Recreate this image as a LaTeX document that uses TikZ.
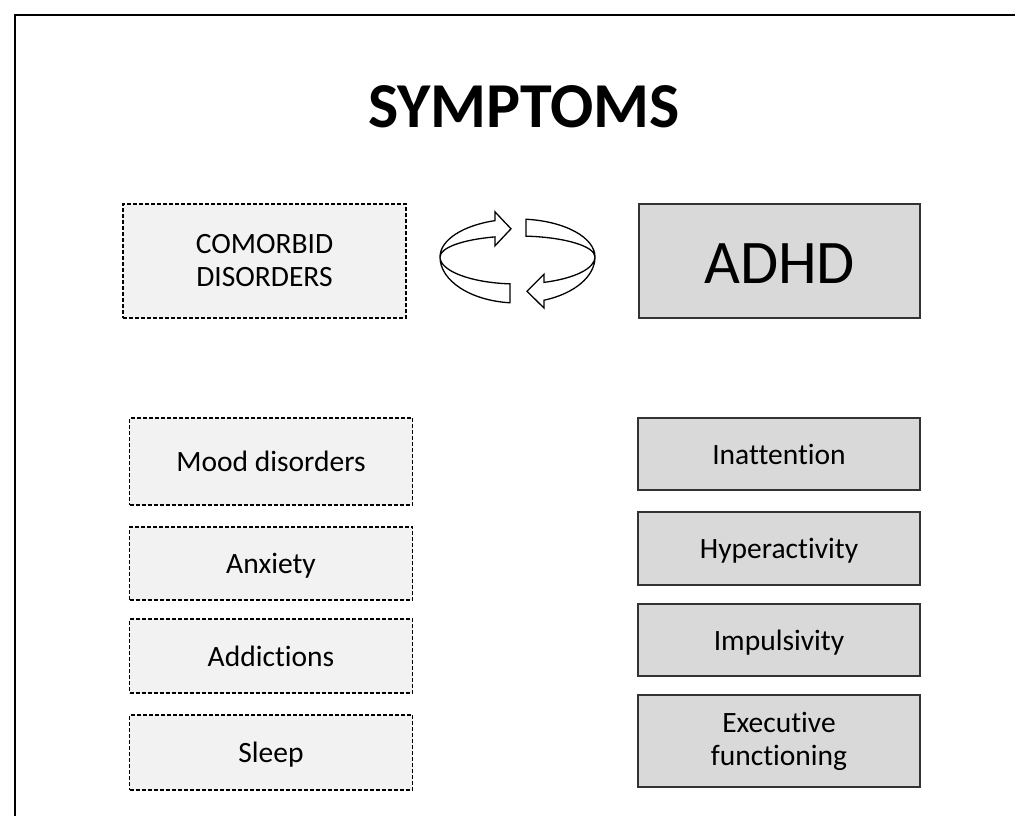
\documentclass[tikz,border=0pt]{standalone}
\usepackage{fontspec}
\setmainfont{Carlito}[Ligatures=CommonOff]
\usepackage{tikz}

\begin{document}
\begin{tikzpicture}[x=1pt,y=1pt,
    comorb/.style={draw, dashed, dash pattern=on 4pt off 2pt, line width=1.3pt, fill=black!5,
        minimum width=283pt, font=\fontsize{29.5}{33}\selectfont, align=center},
    core/.style={draw=black!80, line width=1.2pt, fill=black!15,
        minimum width=282pt, font=\fontsize{29.5}{33}\selectfont, align=center},
    oneline/.style={text height=20pt, text depth=0pt},
    ringarrow/.style={draw, fill=white, line width=1.3pt}]
    \useasboundingbox (0,0) rectangle (1015,-816);
    \draw[line width=2pt] (15,-816) -- (15,-15) -- (1015,-15);
    \node[font=\fontsize{64}{77}\selectfont\bfseries, anchor=base] (title) at (524,-127) {SYMPTOMS};

    \node[comorb, minimum height=114pt] (comorbid) at (264.5,-261) {COMORBID\\DISORDERS};
    \node[core, minimum width=281pt, minimum height=114pt, font=\fontsize{62}{70}\selectfont,
        text height=44pt, text depth=0pt] (adhd) at (779.5,-261) {ADHD};

    \node[comorb, oneline, minimum height=87pt] (mood) at (271,-461.5) {Mood disorders};
    \node[comorb, oneline, minimum height=73pt] (anxiety) at (271,-563.5) {Anxiety};
    \node[comorb, oneline, minimum height=74pt] (addictions) at (271,-656) {Addictions};
    \node[comorb, oneline, minimum height=75pt] (sleep) at (271,-752.5) {Sleep};

    \node[core, oneline, minimum height=72pt] (inattention) at (779,-454) {Inattention};
    \node[core, oneline, minimum height=73pt] (hyper) at (779,-548.5) {Hyperactivity};
    \node[core, oneline, minimum height=72pt] (impuls) at (779,-640) {Impulsivity};
    \node[core, minimum height=92pt] (execfun) at (779,-741) {Executive\\functioning};

    \coordinate (ring) at (517.5,-257);
    \draw[ringarrow] ([shift={(264.4:77.5 and 46)}]ring)
        arc[start angle=264.4, end angle=180, x radius=77.5, y radius=46]
        arc[start angle=180, end angle=106.9, x radius=77.5, y radius=38]
        -- ++(0,8.8) -- (511,-228.8) -- (495,-245.8) -- ([shift={(106.9:77.5 and 21)}]ring)
        arc[start angle=106.9, end angle=180, x radius=77.5, y radius=21]
        arc[start angle=180, end angle=264.4, x radius=77.5, y radius=27] -- cycle;
    \draw[ringarrow] ([shift={(83.7:77.5 and 38)}]ring)
        arc[start angle=83.7, end angle=0, x radius=77.5, y radius=38]
        arc[start angle=0, end angle=-70, x radius=77.5, y radius=46]
        -- ++(0,-7.8) -- (527,-291.3) -- (544,-274.3) -- ([shift={(-70:77.5 and 27)}]ring)
        arc[start angle=-70, end angle=0, x radius=77.5, y radius=27]
        arc[start angle=0, end angle=83.7, x radius=77.5, y radius=21] -- cycle;
\end{tikzpicture}
\end{document}
